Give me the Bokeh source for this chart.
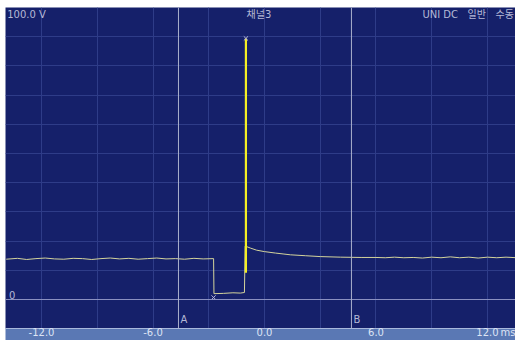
from bokeh.plotting import figure
from bokeh.models import Span, Label, FixedTicker, Range1d
from bokeh.embed import file_html
from bokeh.resources import INLINE

# ---- data (time in ms, voltage in V) ----
trace_t = [-13.9, -13.3, -12.8, -12.3, -11.8, -11.3, -10.8, -10.3, -9.8, -9.3,
           -8.8, -8.3, -7.8, -7.3, -6.8, -6.3, -5.8, -5.3, -4.8, -4.3,
           -3.8, -3.3, -2.74, -2.72, -2.2, -1.7, -1.3, -1.08, -1.04,
           -0.75, -0.43, 0.0, 0.59, 1.0, 1.4, 2.2, 3.0, 4.1, 5.2, 6.0,
           6.5, 7.0, 7.5, 8.0, 8.5, 9.0, 9.5, 10.0, 10.5, 11.0,
           11.5, 12.0, 12.5, 13.0, 13.6]
trace_v = [13.8, 14.1, 13.7, 14.0, 14.2, 13.9, 13.8, 14.1, 14.0, 13.7,
           14.0, 14.2, 13.9, 14.1, 13.8, 14.0, 14.2, 13.9, 14.0, 13.8,
           14.1, 13.9, 14.0, 2.0, 2.1, 2.3, 2.2, 2.4, 18.3,
           17.6, 16.9, 16.4, 15.9, 15.6, 15.3, 15.0, 14.7, 14.5, 14.4, 14.4,
           14.3, 14.5, 14.3, 14.4, 14.2, 14.5, 14.3, 14.6, 14.3, 14.5,
           14.2, 14.5, 14.3, 14.5, 14.3]
spike_t = [-1.0]
spike_low = [9.2]
spike_high = [89.4]
marker_t = [-1.0, -2.74]
marker_v = [89.4, 0.7]
cursor_names = ["A", "B"]
cursor_times = [-4.63, 4.68]
label_ticks = [-12.0, -6.0, 0.0, 6.0, 12.0]
grid_x = [-12, -9, -6, -3, 0, 3, 6, 9, 12]
grid_y = [10, 20, 30, 40, 50, 60, 70, 80, 90]
x_unit_pos = 13.4

BG = "#15206a"
BAR = "#5a78b4"
TXT = "#b4b8d6"
FONT = "DejaVu Sans, Noto Sans CJK KR"
NB = "\u00a0"

p = figure(frame_width=510, frame_height=321,
           x_range=Range1d(-13.94, 13.51), y_range=Range1d(-9.93, 100.0),
           output_backend="svg", toolbar_location=None, y_axis_location=None,
           min_border_left=5, min_border_right=0, min_border_top=7, min_border_bottom=0)
p.background_fill_color = BG
p.border_fill_color = "white"
p.outline_line_color = None

# axis on the light blue bar
ax = p.xaxis[0]
ax.background_fill_color = BAR
ax.ticker = FixedTicker(ticks=label_ticks + [x_unit_pos])
ax.major_label_overrides = {**{t: f"{t:.1f}" for t in label_ticks}, x_unit_pos: "ms"}
ax.major_tick_in = 0
ax.major_tick_out = 0
ax.minor_tick_line_color = None
ax.major_label_standoff = -2
ax.axis_line_color = "#a8b8dc"
ax.major_label_text_color = "#dde4f4"
ax.major_label_text_font = FONT
ax.major_label_text_font_size = "10px"

p.xgrid[0].ticker = FixedTicker(ticks=grid_x)
p.ygrid[0].ticker = FixedTicker(ticks=grid_y)
for g in (p.xgrid[0], p.ygrid[0]):
    g.grid_line_color = "#2e3c88"
    g.grid_line_width = 1

# zero level line
p.add_layout(Span(location=0, dimension="width", line_color="#8a90c0", line_width=1))

# cursors
for name, t in zip(cursor_names, cursor_times):
    p.add_layout(Span(location=t, dimension="height", line_color="#aab0cc", line_width=1))
    p.add_layout(Label(x=t, y=-8.6, text=name, x_offset=2, text_color=TXT,
                       text_font=FONT, text_font_size="10px", text_baseline="bottom"))

# trace
p.line(trace_t, trace_v, line_color="#d4d49c", line_width=1)
p.segment(x0=spike_t, y0=spike_low, x1=spike_t, y1=spike_high,
          line_color="#f4ee24", line_width=2.2)
p.scatter(marker_t, marker_v, marker="x", size=6, line_color="#b4b4d8", line_width=1)

# header texts
p.add_layout(Label(x=-13.85, y=97.6, text="100.0" + NB + "V", text_color=TXT, text_font=FONT,
                   text_font_size="10px", text_baseline="middle"))
p.add_layout(Label(x=-0.3, y=97.6, text="채널3", text_color=TXT, text_font=FONT,
                   text_font_size="10px", text_baseline="middle", text_align="center"))
p.add_layout(Label(x=8.5, y=97.6, text="UNI" + NB + "DC" + NB * 3 + "일반" + NB * 3 + "수동",
                   text_color=TXT, text_font=FONT,
                   text_font_size="10px", text_baseline="middle"))
p.add_layout(Label(x=-13.75, y=1.4, text="0", text_color=TXT, text_font=FONT,
                   text_font_size="10px", text_baseline="middle"))

open("out.html", "w").write(file_html(p, INLINE))
